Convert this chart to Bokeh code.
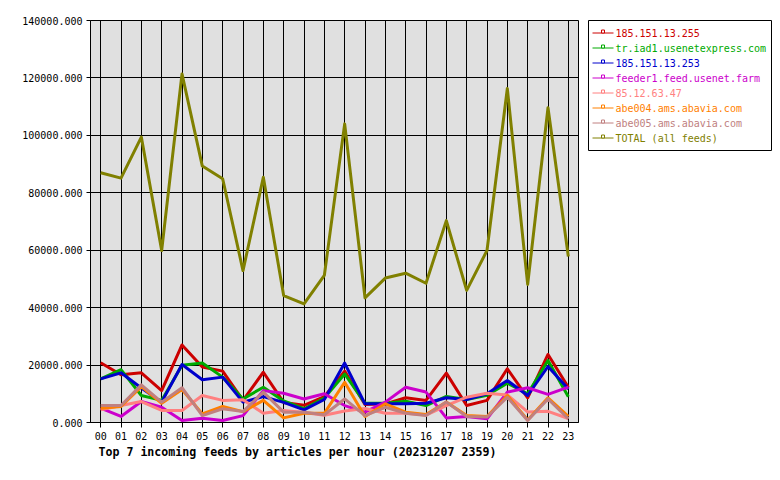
from bokeh.plotting import figure
from bokeh.layouts import row
from bokeh.models import (FixedTicker, PrintfTickFormatter, ColumnDataSource, Range1d)
from bokeh.core.properties import value
from bokeh.embed import file_html
from bokeh.resources import INLINE

hours = list(range(24))
hour_labels = ["%02d" % h for h in hours]
y_ticks = [0, 20000, 40000, 60000, 80000, 100000, 120000, 140000]

feed_names = [
    "185.151.13.255",
    "tr.iad1.usenetexpress.com",
    "185.151.13.253",
    "feeder1.feed.usenet.farm",
    "85.12.63.47",
    "abe004.ams.abavia.com",
    "abe005.ams.abavia.com",
    "TOTAL (all feeds)",
]
feed_colors = ["#cc0000", "#00aa00", "#0000cc", "#cc00cc", "#ff8080", "#ff8000", "#c08080", "#808000"]

s_185_151_13_255 = [20800, 16600, 17300, 11100, 27000, 19300, 17900, 7700, 17500, 7000, 6000, 9000,
                    17900, 6300, 6500, 8600, 7700, 17200, 5900, 7700, 18700, 8600, 23700, 12300]
s_tr_iad1 = [15200, 18400, 9400, 7700, 19900, 20700, 15800, 8200, 12300, 7500, 4800, 8500,
             16900, 6700, 6700, 7400, 5900, 9100, 8000, 9500, 13700, 10000, 21600, 9000]
s_185_151_13_253 = [15200, 17300, 12000, 7100, 20200, 14900, 15800, 7100, 9000, 7000, 4400, 8000,
                    20700, 6500, 6500, 6500, 6700, 8600, 8000, 10000, 14600, 9400, 19500, 11700]
s_feeder1 = [5000, 2100, 7300, 5300, 700, 1500, 700, 2400, 11100, 10200, 8200, 10000,
             5900, 3600, 7100, 12300, 10600, 1600, 2100, 1300, 10600, 12100, 9800, 12300]
s_85_12_63_47 = [4400, 5900, 7300, 4200, 4200, 9400, 7700, 7900, 3200, 4200, 3500, 2500,
                 4000, 4900, 3200, 3200, 2600, 5900, 8800, 10200, 9600, 3700, 3900, 1400]
s_abe004 = [5000, 5600, 12500, 6700, 11500, 3000, 5600, 3800, 7700, 1600, 3200, 3200,
            14000, 2100, 6500, 3600, 2800, 7100, 2400, 2100, 9400, 900, 8600, 2100]
s_abe005 = [5900, 5900, 13100, 7100, 12100, 2400, 4800, 3800, 10600, 3600, 3600, 2700,
            8200, 2400, 5300, 3200, 2400, 7100, 2100, 1900, 8800, 700, 8200, 1300]
s_total = [87000, 85100, 99400, 59900, 121400, 89300, 84900, 52900, 85400, 44200, 41300, 51200,
           104000, 43400, 50300, 52000, 48500, 70300, 46000, 59900, 116300, 48100, 109600, 57800]

series = [s_185_151_13_255, s_tr_iad1, s_185_151_13_253, s_feeder1,
          s_85_12_63_47, s_abe004, s_abe005, s_total]

MONO = "DejaVu Sans Mono"

# ---------------- main chart ----------------
FRAME_L, FRAME_T, FRAME_W, FRAME_H = 90, 20, 488, 402
H = 472
W = 580

p = figure(width=W, height=H, output_backend="svg", toolbar_location=None,
           x_range=Range1d(-0.5, 23.5), y_range=Range1d(0, 140000),
           title="Top 7 incoming feeds by articles per hour (20231207 2359)",
           title_location="below")
p.min_border_left = FRAME_L
p.min_border_top = FRAME_T
p.min_border_right = W - FRAME_L - FRAME_W
p.min_border_bottom = H - FRAME_T - FRAME_H
p.frame_width = FRAME_W
p.frame_height = FRAME_H

p.border_fill_color = "white"
p.background_fill_color = "#e0e0e0"
p.outline_line_color = "black"
p.outline_line_width = 1

p.title.align = "left"
p.title.offset = 8
p.title.text_font = MONO
p.title.text_font_style = "bold"
p.title.text_font_size = "11.6px"
p.title.text_color = "black"
p.title.standoff = 0

p.xaxis.ticker = FixedTicker(ticks=hours)
p.xaxis.major_label_overrides = {h: lab for h, lab in zip(hours, hour_labels)}
p.yaxis.ticker = FixedTicker(ticks=y_ticks)
p.yaxis.formatter = PrintfTickFormatter(format="%.3f")
for ax in (p.xaxis, p.yaxis):
    ax.major_label_text_font = MONO
    ax.major_label_text_font_size = "10px"
    ax.major_label_text_color = "black"
    ax.axis_line_color = "black"
    ax.major_tick_line_color = "black"
    ax.major_tick_in = 0
    ax.minor_tick_line_color = None
p.xaxis.major_tick_out = 5
p.xaxis.major_label_standoff = 4
p.yaxis.major_tick_out = 4
p.yaxis.major_label_standoff = 4

p.xgrid.ticker = FixedTicker(ticks=hours)
p.ygrid.ticker = FixedTicker(ticks=y_ticks)
for g in (p.xgrid, p.ygrid):
    g.grid_line_color = "black"
    g.grid_line_width = 1
    g.grid_line_alpha = 1

for name, color, vals in zip(feed_names, feed_colors, series):
    src = ColumnDataSource(dict(x=hours, y=vals))
    p.line("x", "y", source=src, line_color=color, line_width=3, line_join="round")

# ---------------- legend panel ----------------
LW = 196
BOX_L, BOX_T, BOX_W = 8, 20, 183
PAD, ROW = 5, 15
BOX_H = 2 * PAD + ROW * len(feed_names)
GLYPH_X0, GLYPH_X1, TEXT_X = 4, 25, 27

leg = figure(width=LW, height=H, output_backend="svg", toolbar_location=None,
             x_range=Range1d(0, BOX_W), y_range=Range1d(BOX_H, 0),
             x_axis_type=None, y_axis_type=None)
leg.min_border_left = BOX_L
leg.min_border_top = BOX_T
leg.min_border_right = LW - BOX_L - BOX_W
leg.min_border_bottom = H - BOX_T - BOX_H
leg.frame_width = BOX_W
leg.frame_height = BOX_H
leg.background_fill_color = "white"
leg.border_fill_color = "white"
leg.outline_line_color = "black"
leg.outline_line_width = 1
leg.grid.visible = False

rows = [PAD + ROW * (i + 0.5) for i in range(len(feed_names))]
lsrc = ColumnDataSource(dict(
    x0=[GLYPH_X0] * len(rows), x1=[GLYPH_X1] * len(rows),
    xm=[(GLYPH_X0 + GLYPH_X1) / 2] * len(rows), xt=[TEXT_X] * len(rows),
    y=rows, ym=[r - 1.5 for r in rows], name=feed_names, color=feed_colors))
leg.segment("x0", "y", "x1", "y", source=lsrc, line_color="color", line_width=1)
leg.scatter("xm", "ym", source=lsrc, marker="square", size=3, line_color="color",
            fill_color="white", line_width=1)
leg.text("xt", "y", text="name", source=lsrc, text_color="color",
         text_font=value(MONO), text_font_size="10px",
         text_baseline="middle", text_align="left")

layout = row(p, leg)
open("out.html", "w").write(file_html(layout, INLINE))
